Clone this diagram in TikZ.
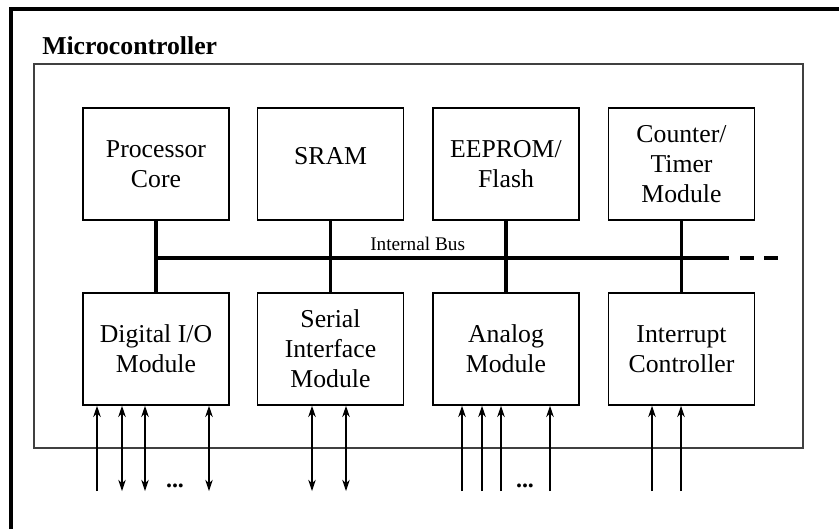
\documentclass[tikz,border=0pt]{standalone}
\usepackage{fontspec}
\setmainfont{Liberation Serif}
\usetikzlibrary{arrows.meta,positioning}
\tikzset{module/.style={draw,line width=1.1pt,minimum width=3.65cm,minimum height=2.8cm,
align=center,inner sep=0pt,font=\fontsize{18.3}{21.3}\selectfont},
bus/.style={line width=2.6pt},
pin/.style={line width=0.9pt,>={Stealth[length=8pt,width=5.4pt]}}}

\begin{document}
\begin{tikzpicture}[x=0.025cm,y=-0.025cm]
	\useasboundingbox (0,0) rectangle (839,529);
	% window frame and chip outline
	\draw[line width=2.8pt] (11,529) -- (11,9) -- (839,9);
	\draw[line width=1pt,black!75] (34,64) rectangle (803,448);
	\node[anchor=base west,inner sep=0pt,font=\bfseries\fontsize{18.3}{21.3}\selectfont] (mc) at (42,54) {Microcontroller};

	\node[module] (core) at (156,164) {Processor\\Core};
	\node[module,text depth=0.4cm] (sram) at (330.5,164) {SRAM};
	\node[module] (flash) at (506,164) {EEPROM/\\Flash};
	\node[module] (timer) at (681.5,164) {Counter/\\Timer\\Module};

	\node[module] (dio) at (156,349) {Digital I/O\\Module};
	\node[module] (sif) at (330.5,349) {Serial\\Interface\\Module};
	\node[module] (ana) at (506,349) {Analog\\Module};
	\node[module] (irq) at (681.5,349) {Interrupt\\Controller};

	% internal bus
	\coordinate (busy) at (0,258);
	\coordinate (busend) at (729,258);
	\coordinate (dashA) at (740,258);
	\coordinate (dashB) at (778,258);
	\foreach \m/\n in {core/dio,sram/sif,flash/ana,timer/irq}
		\draw[bus] (\m) -- (\n);
	\draw[bus] (core.south |- busy) -- (busend);
	\draw[bus,dash pattern=on 0.35cm off 0.25cm] (dashA) -- (dashB);
	\node[anchor=base west,inner sep=0pt,font=\fontsize{13.7}{16}\selectfont] (busname) at (370,250) {Internal Bus};

	% pins
	\coordinate (d0) at (97,491);
	\draw[pin,->] (d0) -- (d0 |- dio.south);
	\foreach \x [count=\i] in {122,145,209} {
		\coordinate (d\i) at (\x,491);
		\draw[pin,<->] (d\i) -- (d\i |- dio.south);
	}
	\foreach \x [count=\i] in {312,346} {
		\coordinate (s\i) at (\x,491);
		\draw[pin,<->] (s\i) -- (s\i |- sif.south);
	}
	\foreach \x [count=\i] in {462,482,501,550} {
		\coordinate (a\i) at (\x,491);
		\draw[pin,->] (a\i) -- (a\i |- ana.south);
	}
	\foreach \x [count=\i] in {652,681} {
		\coordinate (q\i) at (\x,491);
		\draw[pin,->] (q\i) -- (q\i |- irq.south);
	}
	\node[inner sep=0pt,font=\bfseries\fontsize{17}{18}\selectfont] (dotsd) at (175,486) {...};
	\node[inner sep=0pt,font=\bfseries\fontsize{17}{18}\selectfont] (dotsa) at (525,486) {...};
\end{tikzpicture}
\end{document}
